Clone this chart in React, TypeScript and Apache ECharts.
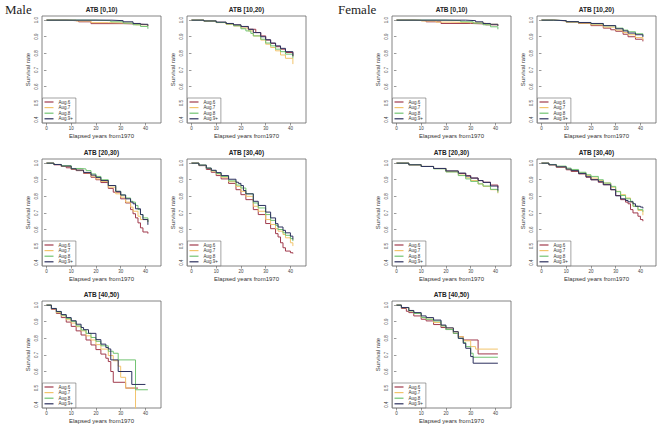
import React, { useEffect, useRef } from 'react';
import * as echarts from 'echarts';

type Pt = [number, number];

const SERIES_NAMES = ['Aug.6', 'Aug.7', 'Aug.8', 'Aug.9+'];
const SERIES_COLORS = ['#A03A4C', '#F2C46C', '#72C472', '#2C305E'];
const X_TICKS = [0, 10, 20, 30, 40];
const Y_TICKS = [0.4, 0.5, 0.6, 0.7, 0.8, 0.9, 1.0];
const X_LABEL = 'Elapsed years from1970';
const Y_LABEL = 'Survival rate';

// ---- Male ----
const mA_a6: Pt[] = [[0, 1], [8, 0.996], [13, 0.99], [18, 0.979], [31, 0.977], [36, 0.973], [41, 0.97]];
const mA_a7: Pt[] = [[0, 1], [12, 0.995], [18, 0.985], [25, 0.983], [31, 0.98], [36, 0.972], [41, 0.962]];
const mA_a8: Pt[] = [[0, 1], [20, 0.997], [26, 0.99], [31, 0.982], [35, 0.972], [38, 0.962], [41, 0.948]];
const mA_a9: Pt[] = [[0, 1], [26, 0.997], [31, 0.99], [35, 0.98], [38, 0.975], [41, 0.965]];

const mB_a6: Pt[] = [[0, 1], [5, 0.995], [10, 0.987], [14, 0.978], [17, 0.97], [20, 0.96], [23, 0.945], [26, 0.925], [28, 0.905], [30, 0.88], [32, 0.86], [34, 0.84], [36, 0.825], [38, 0.805], [41, 0.78]];
const mB_a7: Pt[] = [[0, 1], [5, 0.994], [10, 0.985], [14, 0.975], [17, 0.965], [20, 0.952], [23, 0.935], [25, 0.905], [28, 0.88], [30, 0.855], [32, 0.835], [34, 0.815], [36, 0.79], [38, 0.77], [41, 0.735]];
const mB_a8: Pt[] = [[0, 1], [5, 0.995], [10, 0.986], [14, 0.977], [17, 0.966], [20, 0.948], [22, 0.935], [24, 0.92], [25, 0.905], [28, 0.885], [30, 0.862], [32, 0.845], [34, 0.825], [36, 0.81], [38, 0.795], [41, 0.77]];
const mB_a9: Pt[] = [[0, 1], [5, 0.995], [10, 0.988], [14, 0.98], [17, 0.972], [20, 0.962], [23, 0.945], [25, 0.925], [28, 0.9], [30, 0.882], [32, 0.862], [34, 0.845], [36, 0.83], [38, 0.81], [41, 0.785]];

const mC_a6: Pt[] = [[0, 1], [3, 0.99], [6, 0.98], [8, 0.972], [10, 0.962], [12, 0.955], [15, 0.938], [18, 0.915], [20, 0.9], [22, 0.883], [25, 0.848], [27, 0.825], [30, 0.785], [32, 0.76], [34, 0.72], [35, 0.695], [36, 0.67], [37, 0.64], [38, 0.61], [39, 0.585], [41, 0.575]];
const mC_a7: Pt[] = [[0, 1], [3, 0.992], [6, 0.98], [10, 0.965], [12, 0.958], [15, 0.942], [18, 0.922], [20, 0.905], [22, 0.89], [25, 0.855], [28, 0.815], [30, 0.795], [32, 0.765], [34, 0.735], [35, 0.71], [37, 0.68], [38, 0.66], [41, 0.645]];
const mC_a8: Pt[] = [[0, 1], [3, 0.992], [6, 0.985], [10, 0.968], [14, 0.965], [16, 0.955], [18, 0.935], [20, 0.92], [22, 0.9], [25, 0.865], [28, 0.83], [30, 0.808], [32, 0.79], [34, 0.77], [35, 0.765], [36, 0.745], [37, 0.72], [38, 0.69], [39, 0.67], [41, 0.645]];
const mC_a9: Pt[] = [[0, 1], [3, 0.992], [6, 0.982], [10, 0.966], [12, 0.958], [15, 0.944], [18, 0.928], [20, 0.914], [22, 0.895], [25, 0.865], [28, 0.83], [30, 0.808], [32, 0.785], [34, 0.765], [35, 0.755], [36, 0.725], [38, 0.69], [39, 0.66], [41, 0.628]];

const mD_a6: Pt[] = [[0, 1], [3, 0.985], [6, 0.962], [8, 0.945], [10, 0.925], [12, 0.905], [15, 0.878], [18, 0.84], [20, 0.81], [22, 0.78], [25, 0.72], [27, 0.69], [30, 0.636], [32, 0.605], [34, 0.575], [35, 0.555], [36, 0.52], [37, 0.49], [38, 0.47], [40, 0.46], [41, 0.455]];
const mD_a7: Pt[] = [[0, 1], [3, 0.987], [6, 0.968], [8, 0.952], [10, 0.935], [12, 0.915], [15, 0.888], [18, 0.86], [20, 0.83], [22, 0.8], [25, 0.74], [27, 0.71], [30, 0.66], [32, 0.63], [34, 0.605], [35, 0.59], [37, 0.57], [38, 0.55], [40, 0.52], [41, 0.5]];
const mD_a8: Pt[] = [[0, 1], [3, 0.988], [6, 0.97], [8, 0.955], [10, 0.938], [12, 0.92], [15, 0.893], [18, 0.868], [20, 0.85], [22, 0.815], [25, 0.76], [27, 0.73], [30, 0.69], [32, 0.655], [34, 0.625], [35, 0.6], [37, 0.58], [38, 0.565], [40, 0.545], [41, 0.53]];
const mD_a9: Pt[] = [[0, 1], [3, 0.988], [6, 0.97], [8, 0.957], [10, 0.943], [12, 0.925], [15, 0.903], [18, 0.885], [19, 0.878], [20, 0.865], [21, 0.835], [22, 0.815], [25, 0.77], [27, 0.745], [30, 0.705], [32, 0.67], [34, 0.635], [35, 0.615], [37, 0.595], [38, 0.58], [40, 0.56], [41, 0.54]];

const mE_a6: Pt[] = [[0, 1], [2, 0.975], [4, 0.95], [6, 0.925], [8, 0.898], [10, 0.872], [12, 0.845], [14, 0.82], [16, 0.79], [18, 0.76], [20, 0.732], [22, 0.705], [24, 0.68], [25, 0.66], [26, 0.6], [27, 0.535], [32, 0.5], [37, 0.5]];
const mE_a7: Pt[] = [[0, 1], [2, 0.978], [4, 0.955], [6, 0.935], [8, 0.912], [10, 0.892], [12, 0.87], [14, 0.845], [16, 0.815], [18, 0.79], [20, 0.762], [22, 0.735], [25, 0.696], [27, 0.665], [29, 0.632], [30, 0.565], [32, 0.5], [36, 0]];
const mE_a8: Pt[] = [[0, 1], [2, 0.98], [4, 0.96], [6, 0.94], [8, 0.92], [10, 0.902], [12, 0.875], [14, 0.85], [16, 0.83], [18, 0.805], [20, 0.782], [22, 0.755], [25, 0.722], [27, 0.71], [29, 0.67], [36, 0.49], [41, 0.49]];
const mE_a9: Pt[] = [[0, 1], [2, 0.98], [4, 0.962], [6, 0.943], [8, 0.925], [10, 0.906], [12, 0.885], [14, 0.865], [15, 0.852], [17, 0.83], [20, 0.792], [22, 0.765], [24, 0.745], [25, 0.736], [26, 0.67], [29, 0.6], [34.5, 0.522], [40, 0.522]];

// ---- Female ----
const fA_a6: Pt[] = [[0, 1], [7, 0.996], [12, 0.99], [18, 0.98], [30, 0.977], [36, 0.972], [41, 0.968]];
const fA_a7: Pt[] = [[0, 1], [10, 0.995], [16, 0.988], [22, 0.985], [30, 0.982], [36, 0.975], [41, 0.965]];
const fA_a8: Pt[] = [[0, 1], [20, 0.997], [26, 0.99], [31, 0.982], [35, 0.972], [38, 0.96], [41, 0.945]];
const fA_a9: Pt[] = [[0, 1], [28, 0.997], [32, 0.99], [35, 0.98], [38, 0.975], [41, 0.965]];

const fB_a6: Pt[] = [[0, 1], [5, 0.996], [10, 0.988], [15, 0.98], [20, 0.967], [25, 0.952], [28, 0.942], [30, 0.933], [33, 0.915], [35, 0.9], [38, 0.885], [41, 0.872]];
const fB_a7: Pt[] = [[0, 1], [5, 0.996], [10, 0.989], [15, 0.982], [20, 0.972], [25, 0.958], [30, 0.94], [33, 0.925], [35, 0.912], [38, 0.895], [41, 0.88]];
const fB_a8: Pt[] = [[0, 1], [5, 0.997], [10, 0.99], [15, 0.985], [20, 0.978], [25, 0.966], [30, 0.952], [33, 0.94], [35, 0.93], [38, 0.918], [41, 0.905]];
const fB_a9: Pt[] = [[0, 1], [5, 0.997], [10, 0.991], [15, 0.986], [20, 0.98], [25, 0.967], [30, 0.948], [33, 0.935], [35, 0.922], [38, 0.912], [41, 0.898]];

const fC_a6: Pt[] = [[0, 1], [5, 0.99], [10, 0.98], [15, 0.968], [20, 0.952], [25, 0.938], [28, 0.925], [30, 0.91], [33, 0.895], [35, 0.885], [38, 0.868], [41, 0.852]];
const fC_a7: Pt[] = [[0, 1], [5, 0.99], [10, 0.98], [15, 0.967], [20, 0.948], [25, 0.928], [28, 0.912], [30, 0.895], [33, 0.875], [35, 0.86], [38, 0.84], [41, 0.818]];
const fC_a8: Pt[] = [[0, 1], [5, 0.99], [10, 0.98], [15, 0.966], [20, 0.947], [25, 0.925], [28, 0.905], [30, 0.89], [33, 0.875], [35, 0.862], [38, 0.842], [41, 0.823]];
const fC_a9: Pt[] = [[0, 1], [5, 0.99], [10, 0.98], [15, 0.968], [20, 0.953], [25, 0.94], [28, 0.922], [30, 0.91], [33, 0.895], [35, 0.884], [38, 0.862], [41, 0.835]];

const fD_a6: Pt[] = [[0, 1], [3, 0.99], [6, 0.975], [10, 0.96], [12, 0.95], [15, 0.935], [18, 0.915], [20, 0.9], [23, 0.885], [25, 0.87], [28, 0.84], [30, 0.805], [32, 0.78], [34, 0.765], [35, 0.755], [36, 0.72], [37, 0.7], [39, 0.68], [40, 0.66], [41, 0.65]];
const fD_a7: Pt[] = [[0, 1], [3, 0.99], [6, 0.978], [10, 0.963], [12, 0.955], [15, 0.94], [18, 0.925], [20, 0.91], [23, 0.895], [25, 0.88], [28, 0.855], [30, 0.83], [32, 0.81], [34, 0.79], [36, 0.765], [37, 0.74], [39, 0.715], [41, 0.686]];
const fD_a8: Pt[] = [[0, 1], [3, 0.992], [6, 0.982], [10, 0.97], [12, 0.962], [15, 0.945], [18, 0.93], [20, 0.92], [23, 0.9], [25, 0.88], [28, 0.86], [30, 0.828], [32, 0.805], [34, 0.785], [36, 0.77], [37, 0.74], [39, 0.72], [41, 0.707]];
const fD_a9: Pt[] = [[0, 1], [3, 0.99], [6, 0.978], [10, 0.964], [12, 0.955], [15, 0.938], [18, 0.918], [20, 0.9], [23, 0.888], [25, 0.87], [28, 0.84], [30, 0.803], [32, 0.785], [34, 0.775], [35, 0.767], [37, 0.755], [38, 0.74], [40, 0.735], [41, 0.727]];

const fE_a6: Pt[] = [[0, 1], [2, 0.98], [4, 0.963], [5, 0.955], [7, 0.935], [10, 0.915], [12, 0.905], [15, 0.883], [18, 0.865], [20, 0.853], [23, 0.83], [25, 0.81], [27, 0.79], [33, 0.706], [41, 0.706]];
const fE_a7: Pt[] = [[0, 1], [2, 0.985], [5, 0.965], [7, 0.95], [10, 0.925], [12, 0.915], [15, 0.895], [18, 0.875], [20, 0.862], [23, 0.84], [25, 0.81], [27, 0.785], [30, 0.75], [32, 0.735], [41, 0.735]];
const fE_a8: Pt[] = [[0, 1], [2, 0.985], [5, 0.965], [7, 0.95], [10, 0.925], [12, 0.915], [15, 0.904], [18, 0.875], [20, 0.853], [23, 0.83], [25, 0.8], [27, 0.775], [28, 0.75], [30, 0.71], [31, 0.686], [41, 0.686]];
const fE_a9: Pt[] = [[0, 1], [2, 0.986], [5, 0.968], [7, 0.955], [10, 0.935], [12, 0.925], [15, 0.91], [18, 0.88], [20, 0.863], [23, 0.84], [25, 0.8], [27, 0.77], [28, 0.74], [30, 0.69], [31, 0.65], [41, 0.65]];

const PANELS = [
  { title: 'ATB [0,10)', left: 42, top: 16, curves: [mA_a6, mA_a7, mA_a8, mA_a9] },
  { title: 'ATB [10,20)', left: 187, top: 16, curves: [mB_a6, mB_a7, mB_a8, mB_a9] },
  { title: 'ATB [20,30)', left: 42, top: 159, curves: [mC_a6, mC_a7, mC_a8, mC_a9] },
  { title: 'ATB [30,40)', left: 187, top: 159, curves: [mD_a6, mD_a7, mD_a8, mD_a9] },
  { title: 'ATB [40,50)', left: 42, top: 301, curves: [mE_a6, mE_a7, mE_a8, mE_a9] },
  { title: 'ATB [0,10)', left: 392, top: 16, curves: [fA_a6, fA_a7, fA_a8, fA_a9] },
  { title: 'ATB [10,20)', left: 537, top: 16, curves: [fB_a6, fB_a7, fB_a8, fB_a9] },
  { title: 'ATB [20,30)', left: 392, top: 159, curves: [fC_a6, fC_a7, fC_a8, fC_a9] },
  { title: 'ATB [30,40)', left: 537, top: 159, curves: [fD_a6, fD_a7, fD_a8, fD_a9] },
  { title: 'ATB [40,50)', left: 392, top: 301, curves: [fE_a6, fE_a7, fE_a8, fE_a9] },
];

const W = 119;
const H = 107;
const FONT = 'Liberation Sans, Arial, sans-serif';

export default function App() {
  const ref = useRef<HTMLDivElement>(null);
  useEffect(() => {
    if (!ref.current) return;
    const chart = echarts.init(ref.current, undefined, { renderer: 'svg' });
    const axisColor = '#555';
    const option: any = {
      animation: false,
      backgroundColor: '#fff',
      textStyle: { fontFamily: FONT },
      title: [
        { text: 'Male', left: 5, top: 3, padding: 0, textStyle: { fontFamily: 'Liberation Serif, serif', fontSize: 13, fontWeight: 'normal', color: '#222' } },
        { text: 'Female', left: 338, top: 3, padding: 0, textStyle: { fontFamily: 'Liberation Serif, serif', fontSize: 13, fontWeight: 'normal', color: '#222' } },
        ...PANELS.map((p) => ({
          text: p.title,
          left: p.left + W / 2,
          top: p.top - 10,
          textAlign: 'center',
          padding: 0,
          textStyle: { fontFamily: FONT, fontSize: 6.5, fontWeight: 'bold', color: '#222' },
        })),
      ],
      grid: PANELS.map((p) => ({
        left: p.left, top: p.top, width: W, height: H,
        show: true, borderColor: '#666', borderWidth: 0.8, backgroundColor: 'transparent',
      })),
      xAxis: PANELS.map((p, i) => ({
        type: 'value', gridIndex: i, min: -1.8, max: 46.3,
        axisLine: { show: false }, splitLine: { show: false },
        axisTick: { show: true, length: 2.5, customValues: X_TICKS, lineStyle: { color: axisColor, width: 0.6 } },
        axisLabel: { customValues: X_TICKS, fontSize: 4.5, margin: 3, color: '#444', fontFamily: FONT },
        name: X_LABEL, nameLocation: 'middle', nameGap: 10,
        nameTextStyle: { fontSize: 6, color: '#333', fontFamily: FONT },
      })),
      yAxis: PANELS.map((p, i) => ({
        type: 'value', gridIndex: i, min: 0.38, max: 1.025,
        axisLine: { show: false }, splitLine: { show: false },
        axisTick: { show: true, length: 2.5, customValues: Y_TICKS, lineStyle: { color: axisColor, width: 0.6 } },
        axisLabel: { customValues: Y_TICKS, fontSize: 4.5, margin: 3, rotate: 90, color: '#444', fontFamily: FONT, formatter: (v: number) => v.toFixed(1) },
        name: Y_LABEL, nameLocation: 'middle', nameGap: 11,
        nameTextStyle: { fontSize: 6, color: '#333', fontFamily: FONT },
      })),
      legend: PANELS.map((p) => ({
        data: SERIES_NAMES,
        left: p.left + 0.5,
        top: p.top + H - 25,
        orient: 'vertical',
        selectedMode: false,
        icon: 'rect',
        itemWidth: 9,
        itemHeight: 1.2,
        itemGap: 0.6,
        padding: [1.5, 3, 1.5, 2],
        borderColor: '#666',
        borderWidth: 0.6,
        backgroundColor: '#fff',
        textStyle: { fontSize: 4.5, color: '#333', fontFamily: FONT, lineHeight: 5 },
      })),
      series: PANELS.flatMap((p, i) =>
        p.curves.map((data, j) => ({
          type: 'line',
          name: SERIES_NAMES[j],
          xAxisIndex: i,
          yAxisIndex: i,
          data,
          step: 'end',
          showSymbol: false,
          symbol: 'none',
          clip: true,
          silent: true,
          lineStyle: { color: SERIES_COLORS[j], width: 1 },
          itemStyle: { color: SERIES_COLORS[j] },
        }))
      ),
    };
    chart.setOption(option);
    return () => chart.dispose();
  }, []);
  return (
    <div
      ref={ref}
      style={{ position: 'fixed', left: 0, top: 0, width: 666, height: 430, background: '#fff' }}
    />
  );
}
